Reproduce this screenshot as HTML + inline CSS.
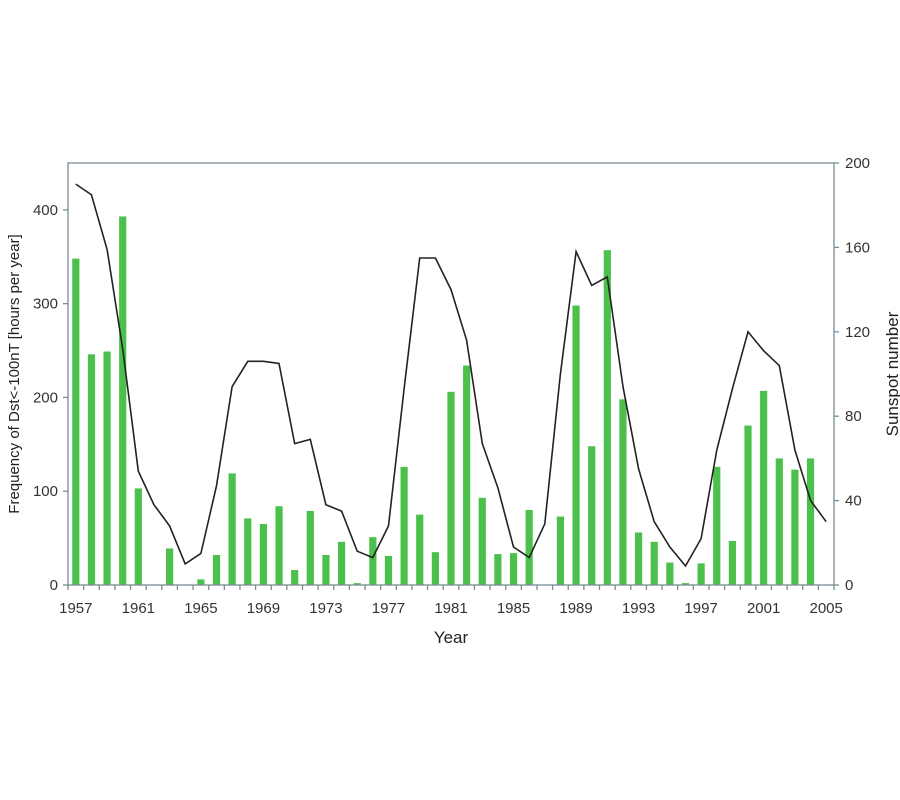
<!DOCTYPE html>
<html><head><meta charset="utf-8"><style>body{margin:0;background:#fff}svg{display:block}</style></head><body>
<svg width="900" height="800" xmlns="http://www.w3.org/2000/svg" font-family="Liberation Sans, sans-serif">
<g id="bars" fill="#4cc04c"></g>
<polyline id="line" fill="none" stroke="#222" stroke-width="1.6"/>
<rect x="68" y="163" width="766" height="422" fill="none" stroke="#7a8c96" stroke-width="1.3"/>
<g id="ax" stroke="#7a8c96" stroke-width="1.3"></g>
<g id="lbl" fill="#333" font-size="15"></g>
<text x="451" y="643" font-size="17" fill="#222" text-anchor="middle">Year</text>
<text transform="translate(19,374) rotate(-90)" font-size="15" fill="#222" text-anchor="middle">Frequency of Dst&lt;-100nT [hours per year]</text>
<text transform="translate(898,374) rotate(-90)" font-size="17" fill="#222" text-anchor="middle">Sunspot number</text>
<script>
var bars=[348,246,249,393,103,0,39,0,6,32,119,71,65,84,16,79,32,46,2,51,31,126,75,35,206,234,93,33,34,80,0,73,298,148,357,198,56,46,24,2,23,126,47,170,207,135,123,135];
var ss=[190,185,159,112,54,38,28,10,15,47,94,106,106,105,67,69,38,35,16,13,28,93,155,155,140,116,67,46,18,13,29,100,158,142,146,94,55,30,18,9,22,64,93,120,111,104,64,40,30];
var ns='http://www.w3.org/2000/svg',w=766/49;
function cx(i){return 68+w*(i+0.5);}
var g=document.getElementById('bars');
bars.forEach(function(v,i){if(!v)return;var r=document.createElementNS(ns,'rect');var h=v*0.9378;r.setAttribute('x',cx(i)-3.6);r.setAttribute('width',7.2);r.setAttribute('y',585-h);r.setAttribute('height',h);g.appendChild(r);});
document.getElementById('line').setAttribute('points',ss.map(function(v,i){return cx(i).toFixed(1)+','+(585-v*2.11).toFixed(1)}).join(' '));
var ax=document.getElementById('ax'),lb=document.getElementById('lbl');
function L(x1,y1,x2,y2){var l=document.createElementNS(ns,'line');l.setAttribute('x1',x1);l.setAttribute('y1',y1);l.setAttribute('x2',x2);l.setAttribute('y2',y2);ax.appendChild(l);}
function T(x,y,s,a){var t=document.createElementNS(ns,'text');t.setAttribute('x',x);t.setAttribute('y',y);t.setAttribute('text-anchor',a);t.textContent=s;lb.appendChild(t);}
for(var k=0;k<=49;k++)L(68+w*k,585,68+w*k,590);
for(var y=1957;y<=2005;y+=4)T(cx(y-1957),613,y,'middle');
for(var v=0;v<=400;v+=100){var yy=585-v*0.9378;L(63,yy,68,yy);T(58,yy+5,v,'end');}
for(var v=0;v<=200;v+=40){var yy=585-v*2.11;L(834,yy,839,yy);T(845,yy+5,v,'start');}
</script>
</svg>
</body></html>
